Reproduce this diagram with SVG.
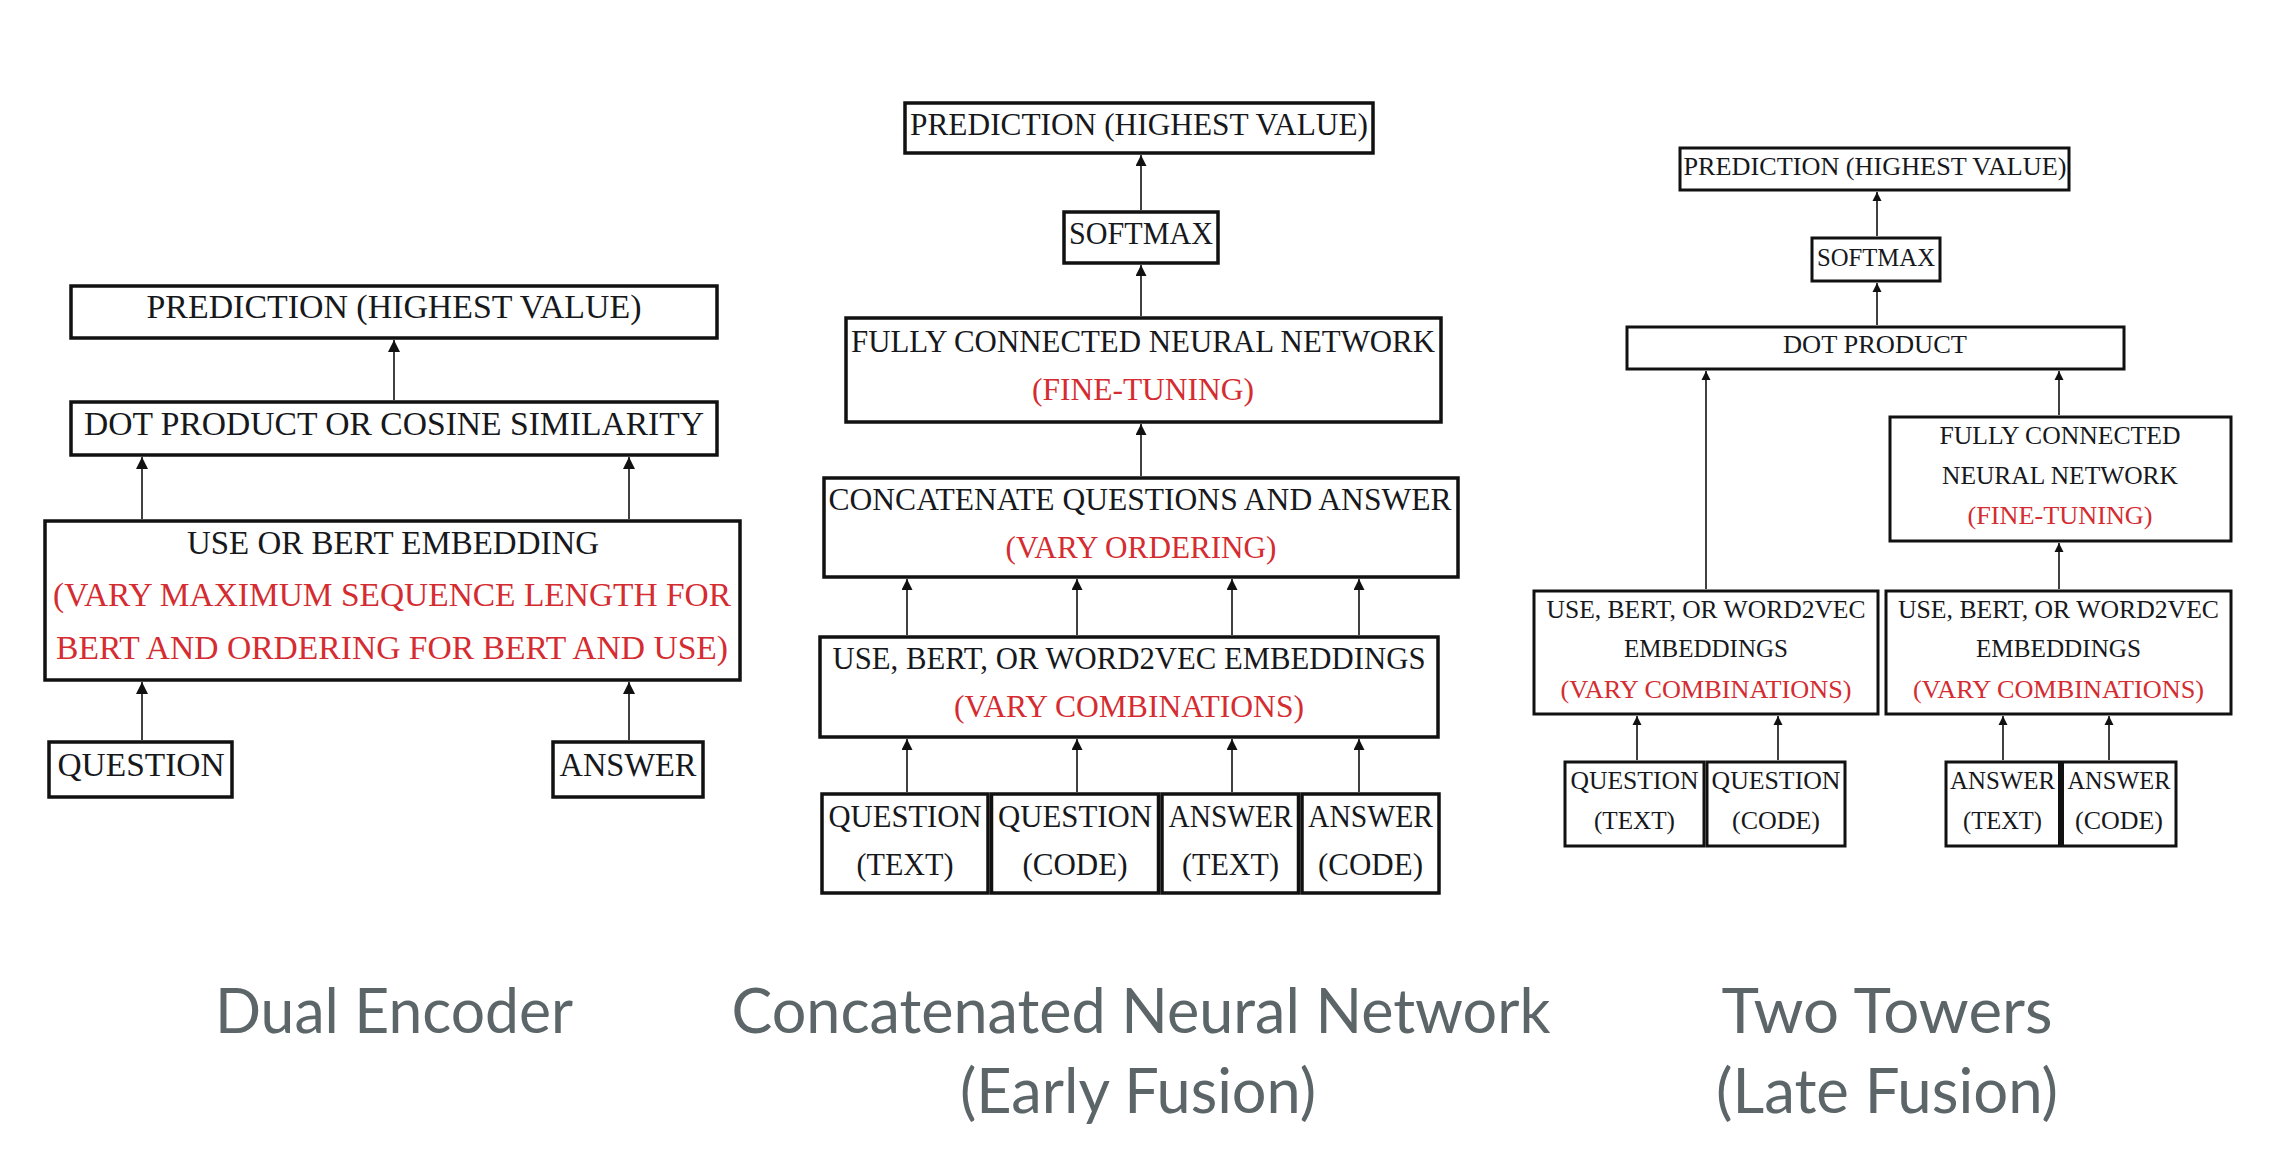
<svg xmlns="http://www.w3.org/2000/svg" width="2276" height="1160" viewBox="0 0 2276 1160">
<style>
.b{fill:#fff;stroke:#111;stroke-width:3.5}
.b3{fill:#fff;stroke:#111;stroke-width:3}
.t{font-family:"Liberation Serif","Times New Roman",serif;fill:#16181c;text-anchor:middle}
.r{fill:#d42c31}
.f1{font-size:33px}
.f2{font-size:31px}
.f3{font-size:25px}
.ttl{font-family:Lato,"Open Sans",sans-serif;font-size:62px;fill:#5c6568;text-anchor:middle}
.c{stroke:#111;stroke-width:1.6;fill:none}
.cl{marker-end:url(#aL)}
.cm{marker-end:url(#aM)}
.cs{marker-end:url(#aS)}
</style>
<defs>
<marker id="aL" viewBox="0 0 10 10" refX="10" refY="5" markerWidth="13" markerHeight="12" markerUnits="userSpaceOnUse" orient="auto"><path d="M0,0L10,5L0,10z" fill="#111"/></marker>
<marker id="aM" viewBox="0 0 10 10" refX="10" refY="5" markerWidth="11" markerHeight="11" markerUnits="userSpaceOnUse" orient="auto"><path d="M0,0L10,5L0,10z" fill="#111"/></marker>
<marker id="aS" viewBox="0 0 10 10" refX="10" refY="5" markerWidth="9" markerHeight="10" markerUnits="userSpaceOnUse" orient="auto"><path d="M0,0L10,5L0,10z" fill="#111"/></marker>
</defs>
<rect width="2276" height="1160" fill="#fff"/>

<g id="connectors">
<!-- dual encoder -->
<path class="c cl" d="M394,400V340"/>
<path class="c cl" d="M142,519V457"/>
<path class="c cl" d="M629,519V457"/>
<path class="c cl" d="M142,740V682"/>
<path class="c cl" d="M629,740V682"/>
<!-- concatenated -->
<path class="c cm" d="M1141,210V155"/>
<path class="c cm" d="M1141,316V265"/>
<path class="c cm" d="M1141,476V424"/>
<path class="c cm" d="M907,635V579"/>
<path class="c cm" d="M1077,635V579"/>
<path class="c cm" d="M1232,635V579"/>
<path class="c cm" d="M1359,635V579"/>
<path class="c cm" d="M907,792V739"/>
<path class="c cm" d="M1077,792V739"/>
<path class="c cm" d="M1232,792V739"/>
<path class="c cm" d="M1359,792V739"/>
<!-- two towers -->
<path class="c cs" d="M1877,236V192"/>
<path class="c cs" d="M1877,325V283"/>
<path class="c cs" d="M1706,589V371"/>
<path class="c cs" d="M2059,415V371"/>
<path class="c cs" d="M2059,589V543"/>
<path class="c cs" d="M1637,760V716"/>
<path class="c cs" d="M1778,760V716"/>
<path class="c cs" d="M2003,760V716"/>
<path class="c cs" d="M2109,760V716"/>
</g>

<!-- Dual Encoder -->
<g id="de-prediction"><rect class="b" x="71" y="286" width="646" height="52"/><text class="t f1" x="394" y="318" textLength="495" lengthAdjust="spacingAndGlyphs">PREDICTION (HIGHEST VALUE)</text></g>
<g id="de-dot"><rect class="b" x="71" y="402" width="646" height="53"/><text class="t f1" x="394" y="435" textLength="620" lengthAdjust="spacingAndGlyphs">DOT PRODUCT OR COSINE SIMILARITY</text></g>
<g id="de-embedding"><rect class="b" x="45" y="521" width="695" height="159"/>
<text class="t f1" x="393" y="554" textLength="412" lengthAdjust="spacingAndGlyphs">USE OR BERT EMBEDDING</text>
<text class="t f1 r" x="392" y="606" textLength="678" lengthAdjust="spacingAndGlyphs">(VARY MAXIMUM SEQUENCE LENGTH FOR</text>
<text class="t f1 r" x="392" y="659" textLength="672" lengthAdjust="spacingAndGlyphs">BERT AND ORDERING FOR BERT AND USE)</text></g>
<g id="de-question"><rect class="b" x="49" y="742" width="183" height="55"/><text class="t f1" x="141" y="776" textLength="167" lengthAdjust="spacingAndGlyphs">QUESTION</text></g>
<g id="de-answer"><rect class="b" x="553" y="742" width="150" height="55"/><text class="t f1" x="628" y="776" textLength="137" lengthAdjust="spacingAndGlyphs">ANSWER</text></g>

<!-- Concatenated -->
<g id="cn-prediction"><rect class="b" x="905" y="103" width="468" height="50"/><text class="t f2" x="1139" y="135" textLength="458" lengthAdjust="spacingAndGlyphs">PREDICTION (HIGHEST VALUE)</text></g>
<g id="cn-softmax"><rect class="b" x="1064" y="212" width="154" height="51"/><text class="t f2" x="1141" y="244" textLength="144" lengthAdjust="spacingAndGlyphs">SOFTMAX</text></g>
<g id="cn-fc"><rect class="b" x="846" y="318" width="595" height="104"/>
<text class="t f2" x="1143" y="352" textLength="584" lengthAdjust="spacingAndGlyphs">FULLY CONNECTED NEURAL NETWORK</text>
<text class="t f2 r" x="1143" y="400" textLength="222" lengthAdjust="spacingAndGlyphs">(FINE-TUNING)</text></g>
<g id="cn-concat"><rect class="b" x="824" y="478" width="634" height="99"/>
<text class="t f2" x="1140" y="510" textLength="623" lengthAdjust="spacingAndGlyphs">CONCATENATE QUESTIONS AND ANSWER</text>
<text class="t f2 r" x="1141" y="558" textLength="271" lengthAdjust="spacingAndGlyphs">(VARY ORDERING)</text></g>
<g id="cn-embeddings"><rect class="b" x="820" y="637" width="618" height="100"/>
<text class="t f2" x="1129" y="669" textLength="593" lengthAdjust="spacingAndGlyphs">USE, BERT, OR WORD2VEC EMBEDDINGS</text>
<text class="t f2 r" x="1129" y="717" textLength="350" lengthAdjust="spacingAndGlyphs">(VARY COMBINATIONS)</text></g>
<g id="cn-q-text"><rect class="b" x="822" y="794" width="166" height="99"/>
<text class="t f2" x="905" y="827" textLength="153" lengthAdjust="spacingAndGlyphs">QUESTION</text>
<text class="t f2" x="905" y="875" textLength="97" lengthAdjust="spacingAndGlyphs">(TEXT)</text></g>
<g id="cn-q-code"><rect class="b" x="991.5" y="794" width="167" height="99"/>
<text class="t f2" x="1075" y="827" textLength="154" lengthAdjust="spacingAndGlyphs">QUESTION</text>
<text class="t f2" x="1075" y="875" textLength="105" lengthAdjust="spacingAndGlyphs">(CODE)</text></g>
<g id="cn-a-text"><rect class="b" x="1162" y="794" width="136.5" height="99"/>
<text class="t f2" x="1230.5" y="827" textLength="124" lengthAdjust="spacingAndGlyphs">ANSWER</text>
<text class="t f2" x="1230.5" y="875" textLength="97" lengthAdjust="spacingAndGlyphs">(TEXT)</text></g>
<g id="cn-a-code"><rect class="b" x="1302" y="794" width="137" height="99"/>
<text class="t f2" x="1370.5" y="827" textLength="125" lengthAdjust="spacingAndGlyphs">ANSWER</text>
<text class="t f2" x="1370.5" y="875" textLength="105" lengthAdjust="spacingAndGlyphs">(CODE)</text></g>

<!-- Two Towers -->
<g id="tt-prediction"><rect class="b3" x="1680" y="148" width="389" height="42"/><text class="t f3" x="1875" y="175" textLength="383" lengthAdjust="spacingAndGlyphs">PREDICTION (HIGHEST VALUE)</text></g>
<g id="tt-softmax"><rect class="b3" x="1812" y="238" width="128" height="43"/><text class="t f3" x="1876" y="266" textLength="118" lengthAdjust="spacingAndGlyphs">SOFTMAX</text></g>
<g id="tt-dot"><rect class="b3" x="1627" y="327" width="497" height="42"/><text class="t f3" x="1875" y="353" textLength="184" lengthAdjust="spacingAndGlyphs">DOT PRODUCT</text></g>
<g id="tt-fc"><rect class="b3" x="1890" y="417" width="341" height="124"/>
<text class="t f3" x="2060" y="444" textLength="241" lengthAdjust="spacingAndGlyphs">FULLY CONNECTED</text>
<text class="t f3" x="2060" y="484" textLength="236" lengthAdjust="spacingAndGlyphs">NEURAL NETWORK</text>
<text class="t f3 r" x="2060" y="524" textLength="185" lengthAdjust="spacingAndGlyphs">(FINE-TUNING)</text></g>
<g id="tt-emb-q"><rect class="b3" x="1534" y="591" width="344" height="123"/>
<text class="t f3" x="1706" y="618" textLength="319" lengthAdjust="spacingAndGlyphs">USE, BERT, OR WORD2VEC</text>
<text class="t f3" x="1706" y="657" textLength="164" lengthAdjust="spacingAndGlyphs">EMBEDDINGS</text>
<text class="t f3 r" x="1706" y="698" textLength="291" lengthAdjust="spacingAndGlyphs">(VARY COMBINATIONS)</text></g>
<g id="tt-emb-a"><rect class="b3" x="1886" y="591" width="345" height="123"/>
<text class="t f3" x="2058.5" y="618" textLength="321" lengthAdjust="spacingAndGlyphs">USE, BERT, OR WORD2VEC</text>
<text class="t f3" x="2058.5" y="657" textLength="165" lengthAdjust="spacingAndGlyphs">EMBEDDINGS</text>
<text class="t f3 r" x="2058.5" y="698" textLength="291" lengthAdjust="spacingAndGlyphs">(VARY COMBINATIONS)</text></g>
<g id="tt-q-text"><rect class="b3" x="1565" y="762" width="139" height="84"/>
<text class="t f3" x="1634.5" y="789" textLength="128" lengthAdjust="spacingAndGlyphs">QUESTION</text>
<text class="t f3" x="1634.5" y="829" textLength="81" lengthAdjust="spacingAndGlyphs">(TEXT)</text></g>
<g id="tt-q-code"><rect class="b3" x="1707" y="762" width="138" height="84"/>
<text class="t f3" x="1776" y="789" textLength="129" lengthAdjust="spacingAndGlyphs">QUESTION</text>
<text class="t f3" x="1776" y="829" textLength="88" lengthAdjust="spacingAndGlyphs">(CODE)</text></g>
<g id="tt-a-text"><rect class="b3" x="1946" y="762" width="113.5" height="84"/>
<text class="t f3" x="2002.5" y="789" textLength="105" lengthAdjust="spacingAndGlyphs">ANSWER</text>
<text class="t f3" x="2002.5" y="829" textLength="79" lengthAdjust="spacingAndGlyphs">(TEXT)</text></g>
<g id="tt-a-code"><rect class="b3" x="2062.5" y="762" width="113.5" height="84"/>
<text class="t f3" x="2119" y="789" textLength="103" lengthAdjust="spacingAndGlyphs">ANSWER</text>
<text class="t f3" x="2119" y="829" textLength="88" lengthAdjust="spacingAndGlyphs">(CODE)</text></g>

<!-- Titles -->
<g id="titles">
<text class="ttl" x="394" y="1033" textLength="358" lengthAdjust="spacingAndGlyphs">Dual Encoder</text>
<text class="ttl" x="1141" y="1033" textLength="819" lengthAdjust="spacingAndGlyphs">Concatenated Neural Network</text>
<text class="ttl" x="1138" y="1113" textLength="356" lengthAdjust="spacingAndGlyphs">(Early Fusion)</text>
<text class="ttl" x="1887" y="1033" textLength="331" lengthAdjust="spacingAndGlyphs">Two Towers</text>
<text class="ttl" x="1887" y="1113" textLength="342" lengthAdjust="spacingAndGlyphs">(Late Fusion)</text>
</g>
</svg>
